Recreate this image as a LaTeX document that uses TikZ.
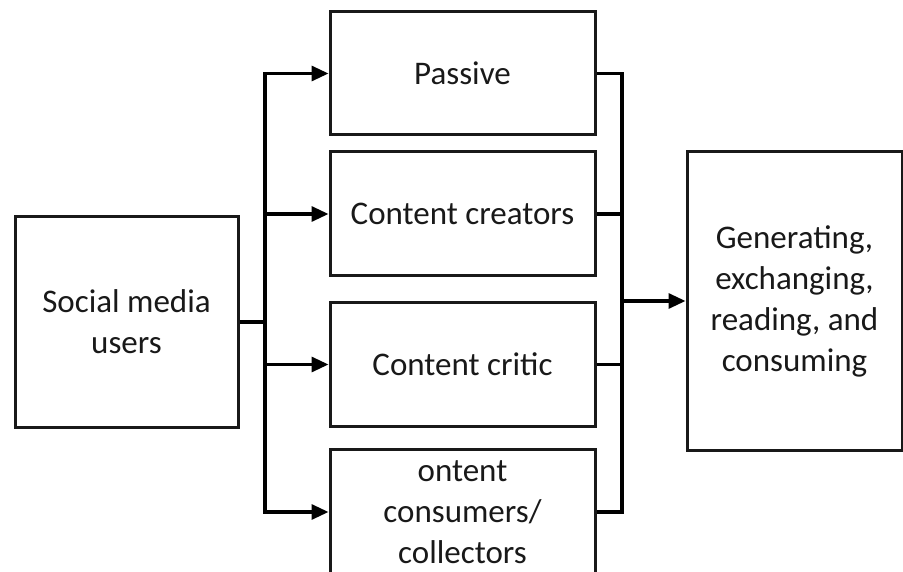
\documentclass[tikz,border=0pt]{standalone}
\usepackage{fontspec}
\setmainfont{Carlito}
\usetikzlibrary{arrows.meta}
\begin{document}
\begin{tikzpicture}[x=1pt,y=-1pt,
  box/.style={draw=black!90, line width=3pt, inner sep=0pt, align=center,
    font=\fontsize{33}{41}\selectfont, text=black!90},
  conn/.style={draw=black, line width=3.2pt, line join=miter},
  arr/.style={conn, -{Triangle[length=17pt,width=15pt]}}]
\clip (0,0) rectangle (903,572);
\fill[white] (0,0) rectangle (903,572);
\node[box, minimum width=223pt, minimum height=210pt] (users) at (126.5,322) {Social media\\users};
\node[box, minimum width=265pt, minimum height=123pt] (passive) at (462.5,73.5) {Passive};
\node[box, minimum width=265pt, minimum height=124pt] (creators) at (462.5,214) {Content creators};
\node[box, minimum width=265pt, minimum height=123pt] (critic) at (462.5,364.5) {Content critic};
\node[box, minimum width=265pt, minimum height=126pt] (consumers) at (462.5,512) {ontent\\consumers/\\collectors};
\node[box, minimum width=215pt, minimum height=298pt] (result) at (794.5,301) {Generating,\\exchanging,\\reading, and\\consuming};
\coordinate (bl) at (265,322);
\coordinate (br) at (622,301);
\draw[conn] (users.east) -- (bl);
\draw[arr] (bl) |- (passive.west);
\draw[arr] (bl) |- (consumers.west);
\draw[arr] (bl |- creators.west) -- (creators.west);
\draw[arr] (bl |- critic.west) -- (critic.west);
\draw[conn] (passive.east) -| (br |- consumers.east) -- (consumers.east);
\draw[conn] (creators.east) -- (br |- creators.east);
\draw[conn] (critic.east) -- (br |- critic.east);
\draw[arr] (br) -- (result.west);
\end{tikzpicture}
\end{document}
